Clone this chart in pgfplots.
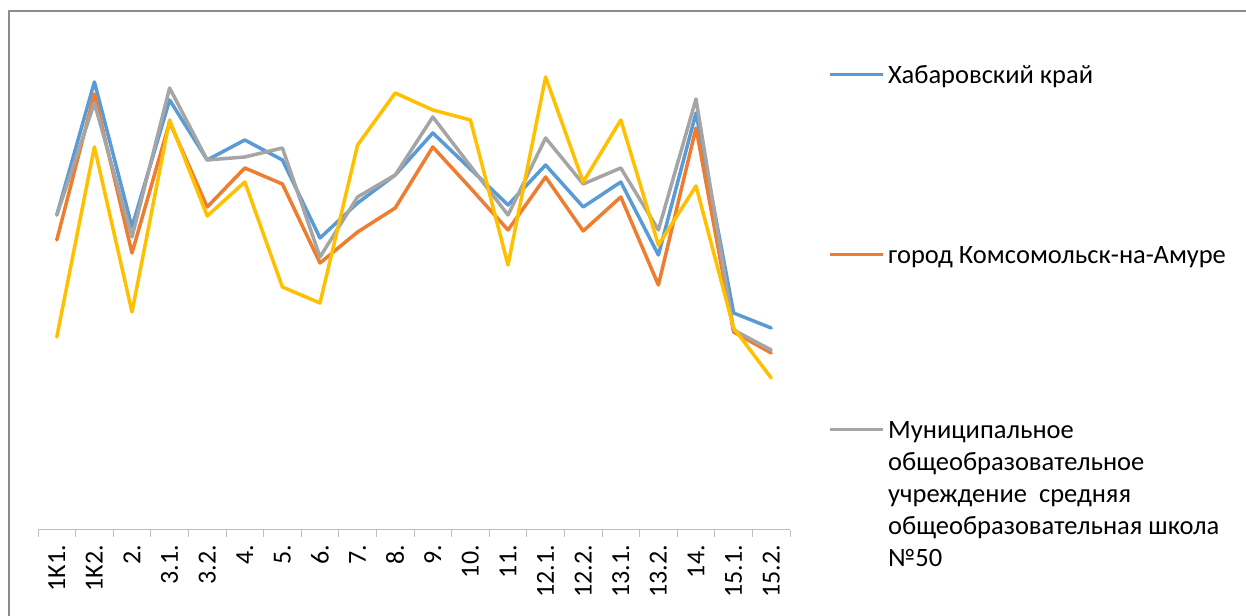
\documentclass[border=0pt]{standalone}
\usepackage{fontspec}
\setmainfont{Carlito}
\usepackage{pgfplots}
\usepackage{pgfplotstable}
\pgfplotsset{compat=1.18}

\definecolor{xlblue}{HTML}{5B9BD5}
\definecolor{xlorange}{HTML}{ED7D31}
\definecolor{xlgray}{HTML}{A5A5A5}
\definecolor{xlyellow}{HTML}{FFC000}
\definecolor{framegray}{HTML}{8C8C8C}
\definecolor{axgray}{HTML}{BFBFBF}

% x = category index (no y axis shown, 0..100 scale)
\pgfplotstableread{
x  khab  koms  school yel
0  63.0  58.0  63.0   38.6
1  89.6  87.2  85.4   76.6
2  60.6  55.4  58.6   43.6
3  86.0  81.6  88.4   82.0
4  74.0  64.6  74.0   62.8
5  78.0  72.4  74.6   69.6
6  74.0  69.2  76.4   48.6
7  58.4  53.4  54.6   45.4
8  65.4  59.6  66.6   77.0
9  71.0  64.4  71.0   87.4
10 79.4  76.6  82.6   84.0
11 72.2  68.4  72.8   82.0
12 65.0  60.0  63.0   53.0
13 73.0  70.6  78.4   90.6
14 64.6  59.8  69.2   69.6
15 69.6  66.6  72.4   82.0
16 55.0  49.0  60.0   57.0
17 83.4  80.4  86.2   68.8
18 43.4  39.6  40.0   40.4
19 40.4  35.4  36.0   30.4
}\scores

\begin{document}
\begin{tikzpicture}[x=1bp,y=1bp]
  \useasboundingbox (0,0) rectangle (1246,616);
  \draw[framegray, line width=1.5bp] (9,0) -- (9,605) -- (1246,605);

  \begin{axis}[
    at={(38bp,86bp)}, anchor=south west,
    scale only axis, width=752bp, height=500bp,
    xmin=-0.5, xmax=19.5, ymin=0, ymax=100,
    axis x line=bottom, axis y line=none,
    x axis line style={axgray, line width=1bp, -},
    xtick={0,...,19},
    xticklabels={1K1.,1K2.,2.,3.1.,3.2.,4.,5.,6.,7.,8.,9.,10.,11.,12.1.,12.2.,13.1.,13.2.,14.,15.1.,15.2.},
    major tick length=0pt,
    minor xtick={-0.5,0.5,...,19.5},
    minor tick length=7bp,
    tick align=outside,
    minor tick style={axgray, line width=1bp},
    xticklabel style={yshift=-15bp, rotate=90, anchor=east, inner sep=0pt,
      font=\fontsize{26bp}{30bp}\selectfont},
    clip=false,
    every axis plot/.append style={line width=3.5bp, line join=round, line cap=round, mark=none},
  ]
    \addplot[xlblue] table[x=x, y=khab] {\scores};
    \addplot[xlorange] table[x=x, y=koms] {\scores};
    \addplot[xlgray] table[x=x, y=school] {\scores};
    \addplot[xlyellow] table[x=x, y=yel] {\scores};
  \end{axis}

  % legend
  \begin{scope}[every node/.style={anchor=base west, inner sep=0pt,
      font=\fontsize{26.5bp}{32bp}\selectfont, align=left}]
    \draw[xlblue, line width=3bp] (830,541) -- (883,541);
    \node at (888,532.5) {Хабаровский край};
    \draw[xlorange, line width=3bp] (830,361) -- (883,361);
    \node at (888,352.5) {город Комсомольск-на-Амуре};
    \draw[xlgray, line width=3bp] (830,186) -- (883,186);
    \node at (888,49.5) {Муниципальное\\общеобразовательное\\учреждение~ средняя\\общеобразовательная школа\\№50};
  \end{scope}
\end{tikzpicture}
\end{document}
